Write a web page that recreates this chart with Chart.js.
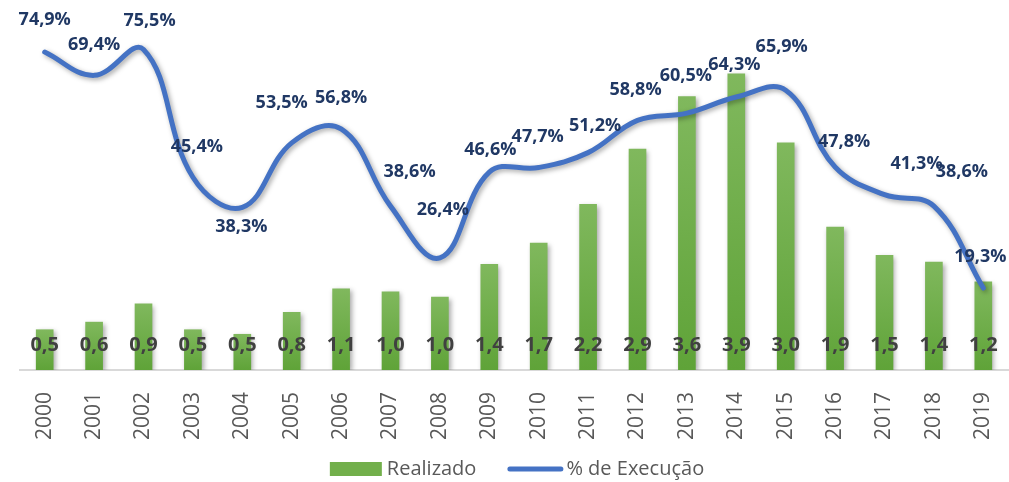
<!DOCTYPE html>
<html><head><meta charset="utf-8">
<script src="https://cdn.jsdelivr.net/npm/chart.js@4.4.1/dist/chart.umd.min.js"></script>
<style>html,body{margin:0;padding:0;background:#fff;}#wrap{width:1009px;height:482px;position:relative;}</style>
</head><body><div id="wrap"><canvas id="c"></canvas></div>
<script>
const years = ['2000','2001','2002','2003','2004','2005','2006','2007','2008','2009','2010','2011','2012','2013','2014','2015','2016','2017','2018','2019'];
const realizado = [0.53,0.63,0.87,0.53,0.47,0.76,1.07,1.03,0.96,1.39,1.67,2.18,2.91,3.6,3.9,2.99,1.88,1.51,1.42,1.16];
const execucao = [74.9,69.4,75.5,45.4,38.3,53.5,56.8,38.6,26.4,46.6,47.7,51.2,58.8,60.5,64.3,65.9,47.8,41.3,38.6,19.3];
const seriesNames = ['Realizado','% de Execução'];

const fmtNum = v => v.toFixed(1).replace('.', ',');
const fmtPct = v => v.toFixed(1).replace('.', ',') + '%';

function barGradient(context){
  const chart = context.chart;
  const area = chart.chartArea;
  if (!area || context.type !== 'data') return '#72AF4B';
  const ys = chart.scales.y1;
  const top = ys.getPixelForValue(context.parsed.y);
  const bot = ys.getPixelForValue(0);
  const g = chart.ctx.createLinearGradient(0, top, 0, bot);
  g.addColorStop(0, '#80B85D');
  g.addColorStop(1, '#5FA338');
  return g;
}

const shadowPlugin = {
  id: 'shadow',
  beforeDatasetDraw(chart){ const c = chart.ctx; c.save(); c.shadowColor='rgba(0,0,0,0.35)'; c.shadowBlur=5; c.shadowOffsetX=2; c.shadowOffsetY=2; },
  afterDatasetDraw(chart){ chart.ctx.restore(); }
};

// label nudges (pixels, relative to each line point) mimicking the manual placement in the original
const pctLabelNudge = [[0,-32],[0,-30],[6,-29],[4,-30],[-1,19],[-10,-40],[0,-31],[19,-34],[3,-48],[1,-22],
                       [-1,-31],[7,-27],[-2,-30],[-1,-37],[-2,-32],[-4,-43],[9,-25],[32,-31],[28,-34],[-3,-31]];

const labelPlugin = {
  id: 'valueLabels',
  afterDatasetsDraw(chart){
    const ctx = chart.ctx;
    ctx.save();
    ctx.textAlign = 'center';
    ctx.textBaseline = 'middle';
    const base = chart.scales.y1.getPixelForValue(0);
    const barMeta = chart.getDatasetMeta(1);
    ctx.font = 'bold 20px "Open Sans"';
    ctx.fillStyle = '#404040';
    barMeta.data.forEach((el, i) => { ctx.fillText(fmtNum(realizado[i]), el.x, base - 25); });
    const lineMeta = chart.getDatasetMeta(0);
    ctx.font = 'bold 18px "Open Sans"';
    ctx.fillStyle = '#203864';
    lineMeta.data.forEach((el, i) => {
      const n = pctLabelNudge[i] || [0, -30];
      ctx.fillText(fmtPct(execucao[i]), el.x + n[0], el.y + n[1]);
    });
    ctx.restore();
  }
};

const legendPlugin = {
  id: 'customLegend',
  afterDraw(chart){
    const ctx = chart.ctx;
    ctx.save();
    ctx.font = '20px "Open Sans"';
    ctx.textBaseline = 'middle';
    ctx.textAlign = 'left';
    const w1 = ctx.measureText(seriesNames[0]).width;
    const w2 = ctx.measureText(seriesNames[1]).width;
    const boxW = 52, lineW = 56, gapBox = 5, gapLine = 3, gapItems = 31;
    const total = boxW + gapBox + w1 + gapItems + lineW + gapLine + w2;
    const cx = (chart.chartArea.left + chart.chartArea.right) / 2 + 3;
    let x = cx - total / 2;
    const y = chart.height - 13;
    ctx.fillStyle = '#72AF4B';
    ctx.fillRect(x, y - 7, boxW, 14);
    x += boxW + gapBox;
    ctx.fillStyle = '#595959';
    ctx.fillText(seriesNames[0], x, y);
    x += w1 + gapItems;
    ctx.strokeStyle = '#4472C4';
    ctx.lineWidth = 5;
    ctx.lineCap = 'round';
    ctx.beginPath();
    ctx.moveTo(x + 2.5, y);
    ctx.lineTo(x + lineW - 2.5, y);
    ctx.stroke();
    x += lineW + gapLine;
    ctx.fillStyle = '#595959';
    ctx.fillText(seriesNames[1], x, y);
    ctx.restore();
  }
};

new Chart(document.getElementById('c'), {
  type: 'bar',
  data: {
    labels: years,
    datasets: [
      {
        type: 'line', label: seriesNames[1], data: execucao, yAxisID: 'y2', order: 0,
        borderColor: '#4472C4', borderWidth: 5, tension: 0.4, borderCapStyle: 'round', borderJoinStyle: 'round',
        pointRadius: 0, pointHoverRadius: 0, fill: false
      },
      {
        type: 'bar', label: seriesNames[0], data: realizado, yAxisID: 'y1', order: 1,
        backgroundColor: barGradient, borderWidth: 0, barThickness: 17
      }
    ]
  },
  options: {
    responsive: true, maintainAspectRatio: false, animation: false,
    layout: { padding: { left: 20, right: 1, top: 10, bottom: 28 } },
    plugins: {
      tooltip: { enabled: false },
      legend: { display: false }
    },
    scales: {
      x: {
        grid: { display: false },
        border: { color: '#D9D9D9', width: 2 },
        ticks: { color: '#595959', font: { family: 'Open Sans', size: 21 }, minRotation: 90, maxRotation: 90, padding: 14 },
        afterFit(scale){ scale.paddingLeft = 0; scale.paddingRight = 0; }
      },
      y1: { display: false, min: 0, max: 4.74 },
      y2: { display: false, min: 0, max: 84.8 }
    }
  },
  plugins: [shadowPlugin, labelPlugin, legendPlugin]
});
</script>
</body></html>
